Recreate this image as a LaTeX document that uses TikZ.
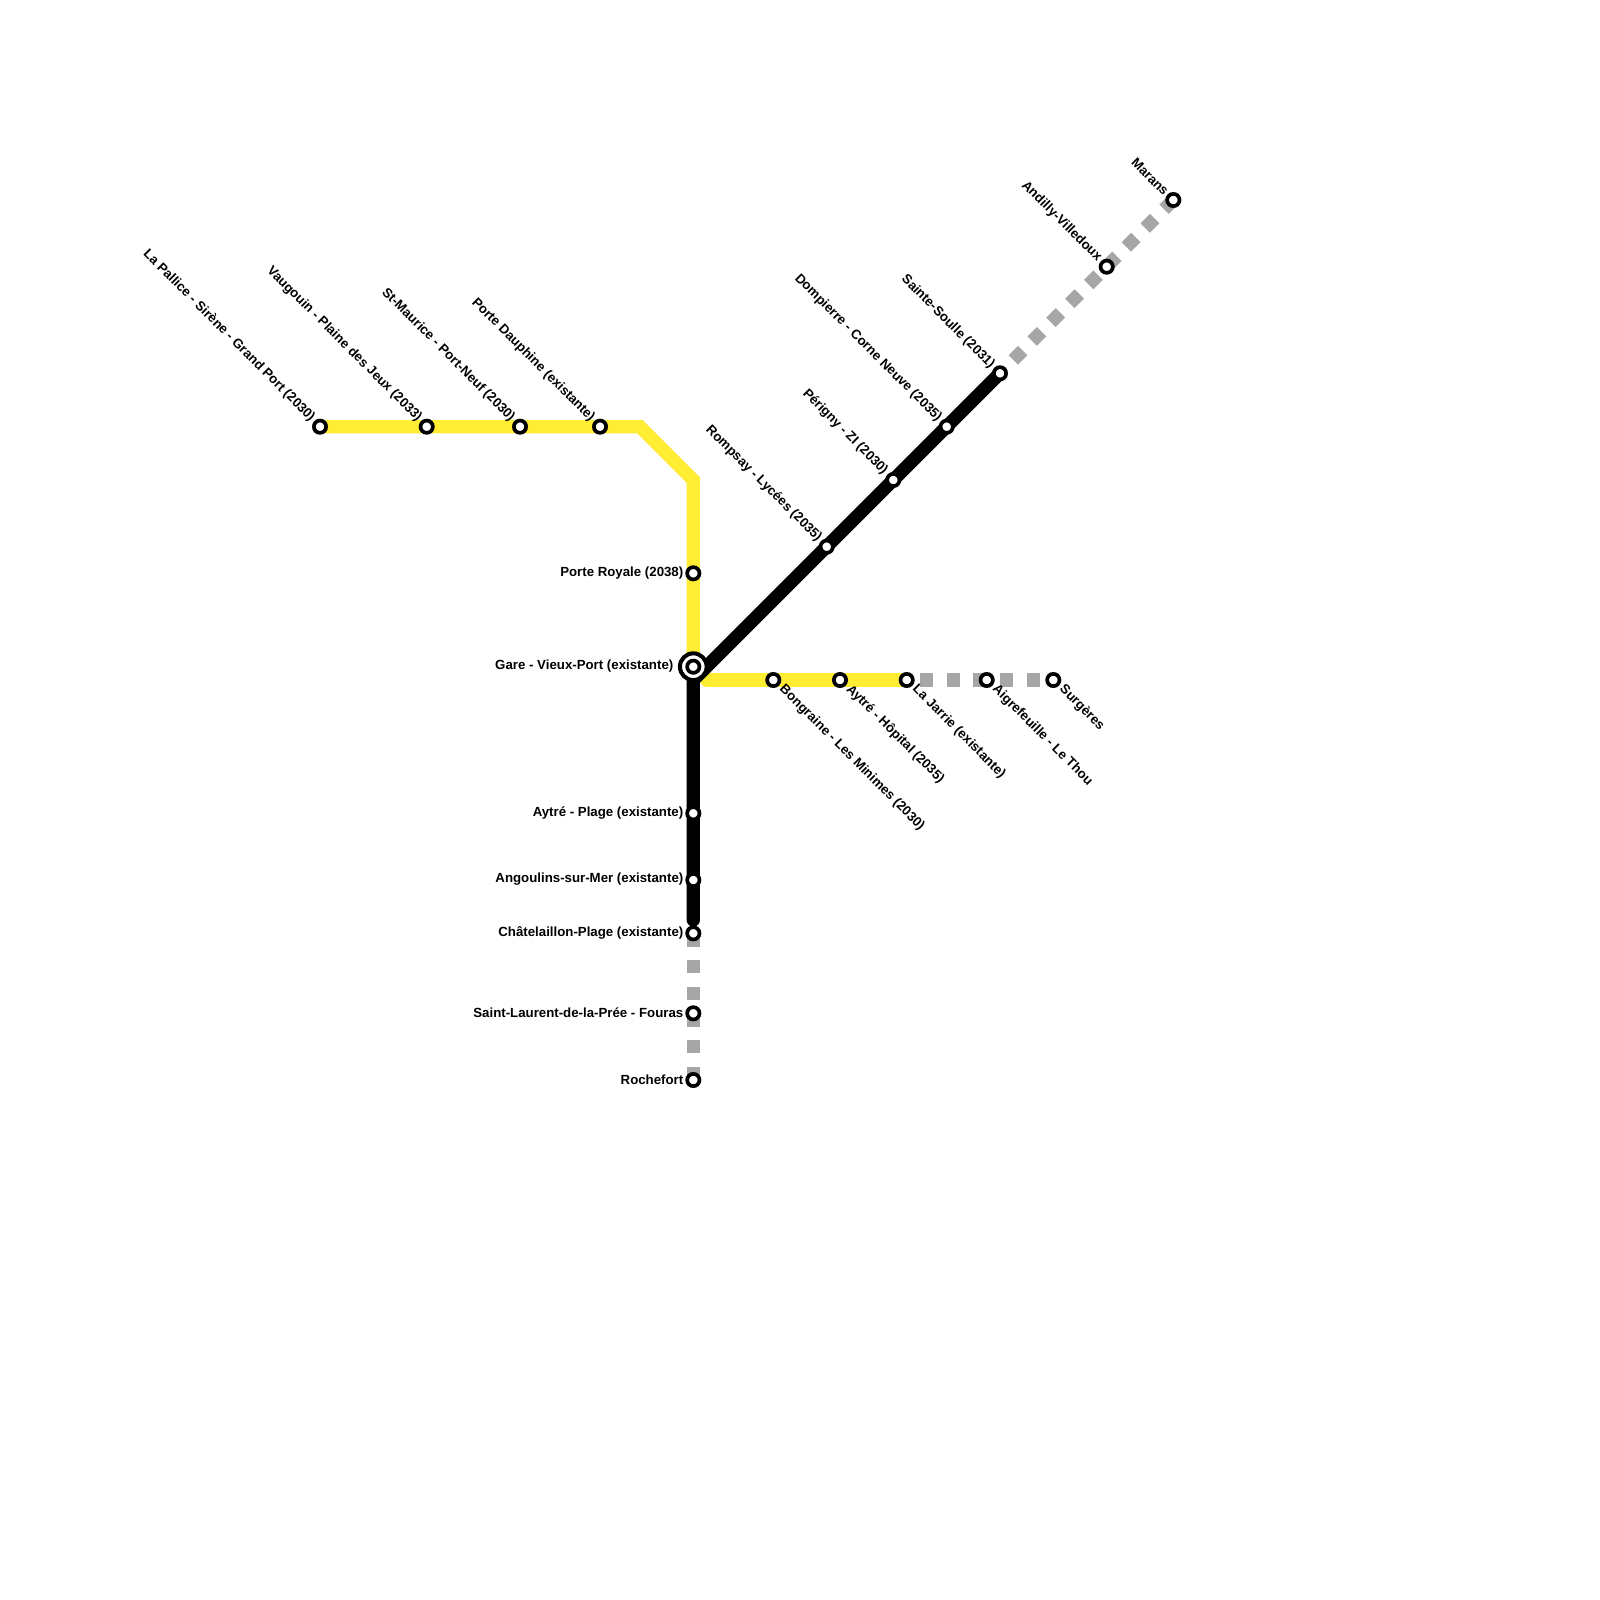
\documentclass[tikz,border=0pt]{standalone}
\usepackage{fontspec}
\setmainfont{Liberation Sans}
\usepackage{xcolor}
\definecolor{lineyellow}{HTML}{FFED33}
\definecolor{linegray}{HTML}{A6A6A6}
\tikzset{
  trackyellow/.style={lineyellow,line width=3.79pt,line cap=round,line join=miter},
  trackblack/.style={black,line width=3.79pt,line cap=round},
  trackgray/.style={linegray,line width=3.79pt,dash pattern=on 3.79pt off 3.79pt},
  halt/.style={circle,draw=black,fill=white,line width=1.05pt,minimum size=3.5pt,inner sep=0pt},
  haltbig/.style={circle,draw=black,fill=white,line width=1.15pt,minimum size=7.6pt,inner sep=0pt},
  lblleft/.style={anchor=east,inner sep=0pt,font=\bfseries\fontsize{3.77}{4.4}\selectfont},
  lblup/.style={lblleft,rotate=-45},
  lbldown/.style={anchor=west,inner sep=0pt,rotate=-45,font=\bfseries\fontsize{3.77}{4.4}\selectfont},
}
\begin{document}
\begin{tikzpicture}[x=0.01cm,y=-0.01cm]
  \useasboundingbox (0,0) rectangle (1600,1600);
  \coordinate (pallice) at (320,426.7);
  \coordinate (vaugouin) at (426.7,426.7);
  \coordinate (stmaurice) at (520,426.7);
  \coordinate (dauphine) at (600,426.7);
  \coordinate (bendw) at (640,426.7);
  \coordinate (bendn) at (693.3,480);
  \coordinate (royale) at (693.3,573.3);
  \coordinate (gare) at (693.3,666.7);
  \coordinate (hub) at (693.3,680);
  \coordinate (hube) at (706.7,680);
  \coordinate (bongraine) at (773.3,680);
  \coordinate (hopital) at (840,680);
  \coordinate (jarrie) at (906.7,680);
  \coordinate (grayeast) at (920,680);
  \coordinate (aigrefeuille) at (986.7,680);
  \coordinate (surgeres) at (1053.3,680);
  \coordinate (rompsay) at (826.7,546.7);
  \coordinate (perigny) at (893.3,480);
  \coordinate (dompierre) at (946.7,426.7);
  \coordinate (soulle) at (1000,373.3);
  \coordinate (graynorth) at (1013.3,360);
  \coordinate (andilly) at (1106.7,266.7);
  \coordinate (marans) at (1173.3,200);
  \coordinate (plage) at (693.3,813.3);
  \coordinate (angoulins) at (693.3,880);
  \coordinate (blackend) at (693.3,920);
  \coordinate (chatel) at (693.3,933.3);
  \coordinate (fouras) at (693.3,1013.3);
  \coordinate (rochefort) at (693.3,1080);

  \draw[trackgray] (chatel) -- (rochefort);
  \draw[trackgray] (grayeast) -- (surgeres);
  \draw[trackgray] (graynorth) -- (marans);
  \draw[trackyellow] (pallice) -- (bendw) -- (bendn) -- (gare);
  \draw[trackyellow] (hube) -- (jarrie);
  \draw[trackblack] (soulle) -- (hub) -- (blackend);

  \node[halt] (st-pallice) at (pallice) {};
  \node[halt] (st-vaugouin) at (vaugouin) {};
  \node[halt] (st-stmaurice) at (stmaurice) {};
  \node[halt] (st-dauphine) at (dauphine) {};
  \node[halt] (st-royale) at (royale) {};
  \node[haltbig] (st-gare) at (gare) {};
  \node[halt] (st-garein) at (gare) {};
  \node[halt] (st-bongraine) at (bongraine) {};
  \node[halt] (st-hopital) at (hopital) {};
  \node[halt] (st-jarrie) at (jarrie) {};
  \node[halt] (st-aigrefeuille) at (aigrefeuille) {};
  \node[halt] (st-surgeres) at (surgeres) {};
  \node[halt] (st-soulle) at (soulle) {};
  \node[halt] (st-andilly) at (andilly) {};
  \node[halt] (st-marans) at (marans) {};
  \node[halt] (st-chatel) at (chatel) {};
  \node[halt] (st-fouras) at (fouras) {};
  \node[halt] (st-rochefort) at (rochefort) {};
  \node[halt] (st-rompsay) at (rompsay) {};
  \node[halt] (st-perigny) at (perigny) {};
  \node[halt] (st-dompierre) at (dompierre) {};
  \node[halt] (st-plage) at (plage) {};
  \node[halt] (st-angoulins) at (angoulins) {};

  \node[lblup] (lb-pallice) at (313,420) {La Pallice - Sirène - Grand Port (2030)};
  \node[lblup] (lb-vaugouin) at (420,420) {Vaugouin - Plaine des Jeux (2033)};
  \node[lblup] (lb-stmaurice) at (513,420) {St-Maurice - Port-Neuf (2030)};
  \node[lblup] (lb-dauphine) at (593,420) {Porte Dauphine (existante)};
  \node[lblup] (lb-rompsay) at (820,540) {Rompsay - Lycées (2035)};
  \node[lblup] (lb-perigny) at (886,473) {Périgny - ZI (2030)};
  \node[lblup] (lb-dompierre) at (940,420) {Dompierre - Corne Neuve (2035)};
  \node[lblup] (lb-soulle) at (993,367) {Sainte-Soulle (2031)};
  \node[lblup] (lb-andilly) at (1100,260) {Andilly-Villedoux};
  \node[lblup] (lb-marans) at (1167,193.5) {Marans};
  \node[lbldown] (lb-bongraine) at (781,687) {Bongraine - Les Minimes (2030)};
  \node[lbldown] (lb-hopital) at (848,687) {Aytré - Hôpital (2035)};
  \node[lbldown] (lb-jarrie) at (914,687) {La Jarrie (existante)};
  \node[lbldown] (lb-aigrefeuille) at (994,687) {Aigrefeuille - Le Thou};
  \node[lbldown] (lb-surgeres) at (1061,687) {Surgères};
  \node[lblleft] (lb-royale) at (684,573) {Porte Royale (2038)};
  \node[lblleft] (lb-gare) at (674,666.5) {Gare - Vieux-Port (existante)};
  \node[lblleft] (lb-plage) at (684,813) {Aytré - Plage (existante)};
  \node[lblleft] (lb-angoulins) at (684,879.5) {Angoulins-sur-Mer (existante)};
  \node[lblleft] (lb-chatel) at (684,933) {Châtelaillon-Plage (existante)};
  \node[lblleft] (lb-fouras) at (684,1013) {Saint-Laurent-de-la-Prée - Fouras};
  \node[lblleft] (lb-rochefort) at (684,1079.5) {Rochefort};
\end{tikzpicture}
\end{document}
